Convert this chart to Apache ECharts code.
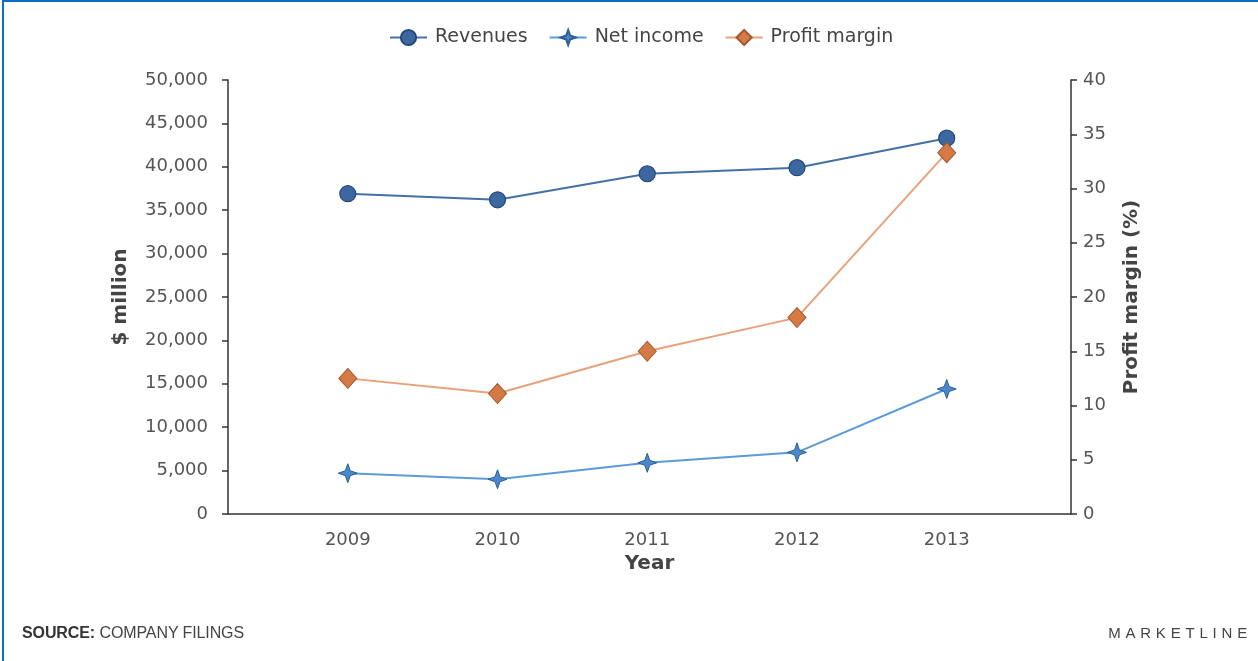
<!DOCTYPE html>
<html>
<head>
<meta charset="utf-8">
<script src="https://cdn.jsdelivr.net/npm/echarts@6/dist/echarts.min.js"></script>
<style>
  html, body { margin: 0; padding: 0; background: #fff; }
  #wrap { position: relative; width: 1258px; height: 661px; overflow: hidden; }
  #frame { position: absolute; left: 2px; top: 0; width: 1256px; height: 661px;
           border-top: 2px solid #0b6fc1; border-left: 2px solid #0b6fc1; box-sizing: border-box; }
  #chart { position: absolute; left: 0; top: 0; width: 1258px; height: 661px; }
  .foot { position: absolute; top: 624px; font-family: "Liberation Sans", Arial, sans-serif;
          font-size: 15px; color: #444; }
  #src { left: 22px; font-size: 16px; letter-spacing: -0.1px; }
  #src b { color: #333; }
  #brand { right: 6px; letter-spacing: 4.8px; }
</style>
</head>
<body>
<div id="wrap">
  <div id="frame"></div>
  <div id="chart"></div>
  <div class="foot" id="src"><b>SOURCE:</b> COMPANY FILINGS</div>
  <div class="foot" id="brand">MARKETLINE</div>
</div>
<script>
// Yearly figures, $ million and percent
var years = [2009, 2010, 2011, 2012, 2013];
var revenues = [36900, 36200, 39200, 39900, 43300];
var netIncome = [4700, 4000, 5900, 7100, 14400];
var profitMargin = [12.5, 11.1, 15.0, 18.1, 33.3];
var leftTicks = [0, 50000, 5000];
var rightTicks = [0, 40, 5];

function pairs(values) {
  return years.map(function (y, i) { return [y, values[i]]; });
}

var font = '"DejaVu Sans", Arial, sans-serif';
var star = 'path://M0,-10 L2.6,-2.6 L10,0 L2.6,2.6 L0,10 L-2.6,2.6 L-10,0 L-2.6,-2.6 Z';
var titleStyle = { fontSize: 20, fontWeight: 'bold', color: '#444', fontFamily: font };
var tickLabel = { fontSize: 18, color: '#555', fontFamily: font };

var chart = echarts.init(document.getElementById('chart'), null, { renderer: 'canvas' });
chart.setOption({
  animation: false,
  textStyle: { fontFamily: font },
  legend: {
    top: 23,
    left: 384,
    itemWidth: 37,
    itemHeight: 19,
    itemGap: 21,
    textStyle: { fontSize: 19, color: '#444', fontFamily: font, padding: [0, 0, 0, 3] },
    data: ['Revenues', 'Net income', 'Profit margin']
  },
  grid: { left: 228, right: 187, top: 80, bottom: 147 },
  xAxis: {
    type: 'value',
    min: 2008.2,
    max: 2013.83,
    name: 'Year',
    nameLocation: 'middle',
    nameGap: 40,
    nameTextStyle: titleStyle,
    axisLine: { show: true, lineStyle: { color: '#333', width: 1.5 } },
    axisTick: { show: false },
    splitLine: { show: false },
    axisLabel: Object.assign({
      customValues: years,
      margin: 17,
      formatter: function (v) { return String(v); }
    }, tickLabel)
  },
  yAxis: [
    {
      type: 'value',
      min: leftTicks[0], max: leftTicks[1], interval: leftTicks[2],
      name: '$ million',
      nameLocation: 'middle',
      nameGap: 97,
      nameRotate: 90,
      nameTextStyle: titleStyle,
      axisLine: { show: true, lineStyle: { color: '#333', width: 1.5 } },
      axisTick: { show: true, length: 6, lineStyle: { color: '#333', width: 1.5 } },
      splitLine: { show: false },
      axisLabel: Object.assign({ margin: 20 }, tickLabel)
    },
    {
      type: 'value',
      position: 'right',
      min: rightTicks[0], max: rightTicks[1], interval: rightTicks[2],
      name: 'Profit margin (%)',
      nameLocation: 'middle',
      nameGap: 51,
      nameRotate: 90,
      nameTextStyle: titleStyle,
      axisLine: { show: true, lineStyle: { color: '#333', width: 1.5 } },
      axisTick: { show: true, length: 6, lineStyle: { color: '#333', width: 1.5 } },
      splitLine: { show: false },
      axisLabel: Object.assign({ margin: 12 }, tickLabel)
    }
  ],
  series: [
    {
      name: 'Revenues',
      type: 'line',
      yAxisIndex: 0,
      data: pairs(revenues),
      symbol: 'circle',
      symbolSize: 16,
      lineStyle: { color: '#4470a8', width: 2 },
      itemStyle: { color: '#3d67a0', borderColor: '#24477a', borderWidth: 1.2 },
      z: 3
    },
    {
      name: 'Net income',
      type: 'line',
      yAxisIndex: 0,
      data: pairs(netIncome),
      symbol: star,
      symbolSize: 19,
      lineStyle: { color: '#5b9bd8', width: 2 },
      itemStyle: { color: '#4a88cc', borderColor: '#2d5e94', borderWidth: 1 },
      z: 2
    },
    {
      name: 'Profit margin',
      type: 'line',
      yAxisIndex: 1,
      data: pairs(profitMargin),
      symbol: 'diamond',
      symbolSize: [18, 20],
      lineStyle: { color: '#e9a17a', width: 2 },
      itemStyle: { color: '#d57a45', borderColor: '#9e5a33', borderWidth: 1 },
      z: 4
    }
  ]
});
</script>
</body>
</html>
